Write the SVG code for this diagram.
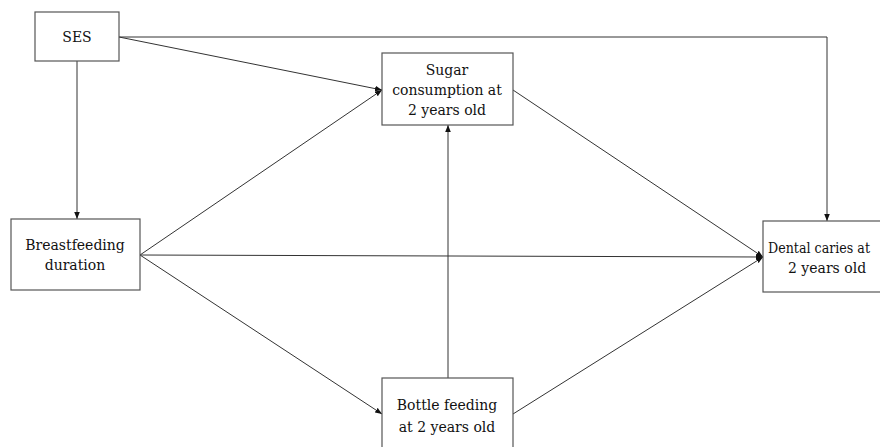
<svg xmlns="http://www.w3.org/2000/svg" width="880" height="447" viewBox="0 0 880 447">
<style>
.box{fill:#fff;stroke:#555;stroke-width:1.2}
.t{font-family:'DejaVu Serif',serif;font-size:14px;fill:#111;text-anchor:middle}
.c{fill:none;stroke:#333;stroke-width:1}
</style>
<defs>
<marker id="a" viewBox="0 0 10 10" refX="10" refY="5" markerWidth="7" markerHeight="7" orient="auto" markerUnits="userSpaceOnUse">
<path d="M0,1 L10,5 L0,9 Z" fill="#111"/>
</marker>
</defs>
<rect width="880" height="447" fill="#fff"/>
<g id="connectors">
<path class="c" d="M119,37 H827 V221" marker-end="url(#a)"/>
<path class="c" d="M119,37 L382,90" marker-end="url(#a)"/>
<path class="c" d="M77,61 V219" marker-end="url(#a)"/>
<path class="c" d="M140,255 L382,90" marker-end="url(#a)"/>
<path class="c" d="M140,255 L763,257" marker-end="url(#a)"/>
<path class="c" d="M140,255 L382,414" marker-end="url(#a)"/>
<path class="c" d="M448,378 V125" marker-end="url(#a)"/>
<path class="c" d="M513,90 L763,257" marker-end="url(#a)"/>
<path class="c" d="M513,414 L763,257" marker-end="url(#a)"/>
</g>
<g id="ses">
<rect class="box" x="35" y="12" width="84" height="49"/>
<text class="t" x="77" y="42">SES</text>
</g>
<g id="sugar">
<rect class="box" x="382" y="53" width="131" height="72"/>
<text class="t" x="447" y="75">Sugar</text>
<text class="t" x="447" y="95">consumption at</text>
<text class="t" x="447" y="115">2 years old</text>
</g>
<g id="breastfeeding">
<rect class="box" x="11" y="219" width="129" height="71"/>
<text class="t" x="75" y="250">Breastfeeding</text>
<text class="t" x="75" y="270">duration</text>
</g>
<g id="dental">
<rect class="box" x="763" y="221" width="130" height="71"/>
<text class="t" x="768" y="253" style="text-anchor:start" textLength="102" lengthAdjust="spacingAndGlyphs">Dental caries at</text>
<text class="t" x="788" y="273" style="text-anchor:start">2 years old</text>
</g>
<g id="bottle">
<rect class="box" x="382" y="378" width="131" height="80"/>
<text class="t" x="447" y="410">Bottle feeding</text>
<text class="t" x="447" y="432">at 2 years old</text>
</g>
</svg>
